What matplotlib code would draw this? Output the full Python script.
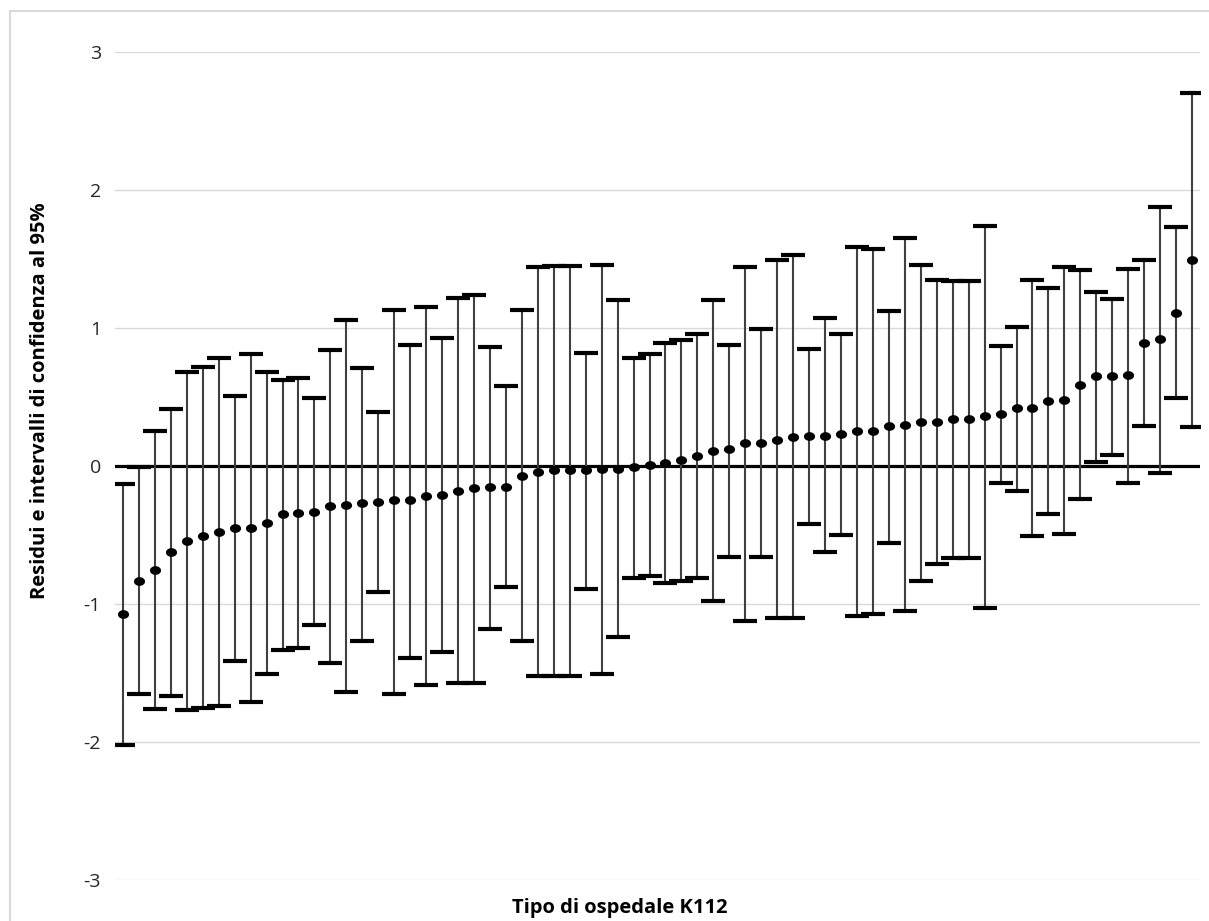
import numpy as np
import matplotlib.pyplot as plt
from matplotlib.patches import Rectangle
from matplotlib.path import Path

plt.rcParams['font.family'] = ['Open Sans', 'DejaVu Sans']

# residui (punti) e limiti dell'intervallo di confidenza al 95%
residui = [-1.07, -0.83, -0.75, -0.62, -0.54, -0.51, -0.48, -0.45, -0.45, -0.41,
           -0.35, -0.34, -0.33, -0.29, -0.28, -0.27, -0.26, -0.25, -0.25, -0.22,
           -0.21, -0.18, -0.16, -0.15, -0.15, -0.07, -0.04, -0.03, -0.03, -0.03,
           -0.02, -0.02, -0.01, 0.01, 0.02, 0.04, 0.07, 0.11, 0.12, 0.17,
           0.17, 0.19, 0.21, 0.22, 0.22, 0.23, 0.25, 0.25, 0.29, 0.30,
           0.32, 0.32, 0.34, 0.34, 0.36, 0.38, 0.42, 0.42, 0.47, 0.48,
           0.59, 0.65, 0.65, 0.66, 0.89, 0.92, 1.11, 1.49]
sup = [-0.13, -0.01, 0.25, 0.41, 0.68, 0.72, 0.78, 0.51, 0.81, 0.68,
       0.62, 0.64, 0.49, 0.84, 1.06, 0.71, 0.39, 1.13, 0.88, 1.15,
       0.93, 1.22, 1.24, 0.86, 0.58, 1.13, 1.44, 1.45, 1.45, 0.82,
       1.46, 1.20, 0.78, 0.81, 0.89, 0.91, 0.96, 1.20, 0.88, 1.44,
       0.99, 1.49, 1.53, 0.85, 1.07, 0.96, 1.59, 1.57, 1.12, 1.65,
       1.46, 1.35, 1.34, 1.34, 1.74, 0.87, 1.01, 1.35, 1.29, 1.44,
       1.42, 1.26, 1.21, 1.43, 1.49, 1.88, 1.73, 2.70]
inf = [-2.02, -1.65, -1.76, -1.67, -1.77, -1.75, -1.74, -1.41, -1.71, -1.51,
       -1.33, -1.32, -1.15, -1.43, -1.64, -1.27, -0.91, -1.65, -1.39, -1.59,
       -1.35, -1.57, -1.57, -1.18, -0.88, -1.27, -1.52, -1.52, -1.52, -0.89,
       -1.51, -1.24, -0.81, -0.80, -0.85, -0.83, -0.81, -0.98, -0.66, -1.12,
       -0.66, -1.10, -1.10, -0.42, -0.62, -0.50, -1.09, -1.07, -0.56, -1.05,
       -0.83, -0.71, -0.67, -0.67, -1.03, -0.12, -0.18, -0.51, -0.35, -0.49,
       -0.24, 0.03, 0.08, -0.12, 0.29, -0.05, 0.49, 0.28]
yticks = [-3, -2, -1, 0, 1, 2, 3]

x = list(range(len(residui)))
err_low = [r - l for r, l in zip(residui, inf)]
err_up = [u - r for r, u in zip(residui, sup)]

# marker ellittico come in Excel
t = np.linspace(0, 2 * np.pi, 40)
ellisse = Path(np.column_stack([np.cos(t), 0.75 * np.sin(t)]), closed=True)

fig = plt.figure(figsize=(12.09, 9.21), dpi=100)
fig.patches.append(Rectangle((10 / 1209, -0.1), 1.2, 1 - 11 / 921 + 0.1, transform=fig.transFigure,
                             fill=False, edgecolor='#d9d9d9', linewidth=1.5))

ax = fig.add_axes([115 / 1209, 41 / 921, 1085 / 1209, 828 / 921])
ax.set_xlim(-0.5, len(x) - 0.5)
ax.set_ylim(-3, 3)

for v in yticks:
    if v != 0:
        ax.axhline(v, color='#d9d9d9', linewidth=1.0, zorder=0)
ax.axhline(0, color='black', linewidth=2.3, zorder=1)

eb = ax.errorbar(x, residui, yerr=[err_low, err_up], fmt='none',
                 ecolor='#404040', elinewidth=1.5, capsize=8.5, capthick=3, zorder=3)
for cap in eb[1]:
    cap.set_markeredgecolor('black')
ax.plot(x, residui, linestyle='none', marker=ellisse, markersize=7, color='black', zorder=4)

for s in ax.spines.values():
    s.set_visible(False)
ax.set_xticks([])
ax.set_yticks(yticks)
ax.set_yticklabels([str(v) for v in yticks], fontsize=14, color='#262626')
ax.tick_params(axis='y', length=0, pad=10)

fig.text(620 / 1209, 1 - 908 / 921, 'Tipo di ospedale K112', ha='center', va='center',
         fontsize=14.5, fontweight='bold')
fig.text(40 / 1209, 1 - 401 / 921, 'Residui e intervalli di confidenza al 95%', ha='center',
         va='center', rotation=90, fontsize=14.5, fontweight='bold')

fig.savefig('out.png', dpi=100)
